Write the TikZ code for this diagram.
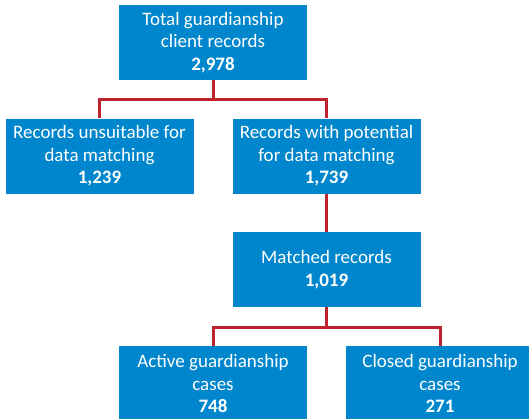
\documentclass[tikz,border=0pt]{standalone}
\usepackage{fontspec}
\setmainfont{Carlito}
\usetikzlibrary{positioning}

\definecolor{boxblue}{RGB}{0,134,204}
\definecolor{linkred}{RGB}{190,35,45}

\tikzset{
  box/.style={rectangle, fill=boxblue, text=white, align=center,
    minimum width=188pt, minimum height=75pt, inner sep=0pt,
    font=\fontsize{19}{22.5}\selectfont},
  link/.style={draw=linkred, line width=3pt}
}

\begin{document}
\begin{tikzpicture}[x=1pt,y=-1pt]
  \useasboundingbox (0,0) rectangle (529,418);

  \begin{scope}[every node/.style={box}]
    \node (total) at (213,42.5) {Total guardianship\\client records\\\textbf{2,978}};
    \node (unsuit) at (99.5,156) {Records unsuitable for\\data matching\\\textbf{1,239}};
    \node (potential) at (326.5,156) {Records with potential\\for data matching\\\textbf{1,739}};
    \node (matched) at (326.5,269.5) {Matched records\\\textbf{1,019}};
    \node (active) at (213,383.5) {Active guardianship\\cases\\\textbf{748}};
    \node (closed) at (440,383.5) {Closed guardianship\\cases\\\textbf{271}};
  \end{scope}

  % elbow links between the levels
  \draw [link] (total.south) -- ++(0,19) -| (unsuit.north);
  \draw [link] (total.south) -- ++(0,19) -| (potential.north);
  \draw [link] (potential.south) -- (matched.north);
  \draw [link] (matched.south) -- ++(0,20) -| (active.north);
  \draw [link] (matched.south) -- ++(0,20) -| (closed.north);
\end{tikzpicture}
\end{document}
